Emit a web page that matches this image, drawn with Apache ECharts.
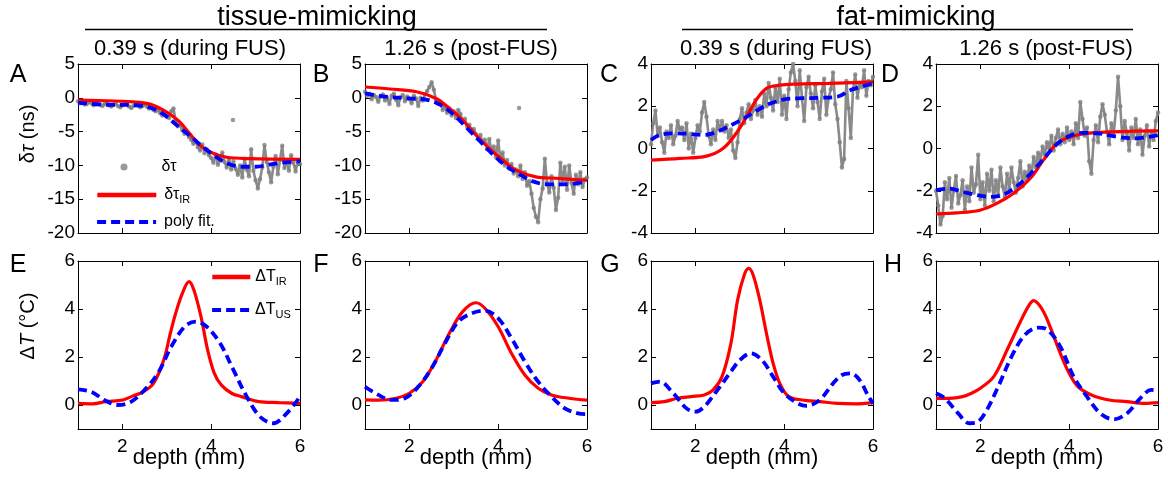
<!DOCTYPE html>
<html><head><meta charset="utf-8">
<script src="https://cdn.jsdelivr.net/npm/echarts@6/dist/echarts.min.js"></script>
<style>html,body{margin:0;padding:0;background:#fff}#c{width:1168px;height:478px}</style>
</head><body><div id="c"></div>
<script>
// ---------- data ----------
const DEPTH_GRID = Array.from({length: 101}, (_, i) => +(1 + i * 0.05).toFixed(2));

const GRAY_A = [-0.5,-0.8,-0.7,-1.0,-0.9,-0.6,-0.8,-1.1,-0.9,-0.7,-1.0,
 -1.2,-0.9,-0.8,-1.1,-1.3,-1.0,-0.9,-1.2,-1.4,-1.1,
 -0.9,-1.0,-1.3,-1.5,-1.2,-0.9,-1.1,-1.4,-1.2,-1.0,
 -1.3,-1.6,-1.4,-1.8,-2.0,-1.7,-2.3,-2.6,-2.2,-2.8,
 -3.0,-2.0,-1.6,-3.4,-4.2,-4.0,-4.8,-5.3,-5.0,-5.8,
 -6.2,-6.8,-6.4,-7.3,-7.8,-6.9,-8.2,-7.6,-8.5,-8.9,
 -9.6,-8.4,-9.9,-9.2,-8.1,-9.5,-10.3,-9.0,-10.6,-9.4,
 -10.5,-11.4,-10.0,-11.8,-9.0,-10.6,-11.6,-7.6,-10.8,-12.2,
 -13.4,-12.0,-10.3,-7.0,-9.5,-11.0,-12.5,-10.2,-8.6,-11.3,
 -9.2,-7.1,-10.4,-9.3,-10.8,-8.5,-9.6,-10.9,-9.4,-9.8];
const GRAY_B = [0.9,0.3,0.6,-0.2,0.4,0.1,-0.6,0.2,0.5,-0.4,0.0,
 -0.9,0.3,0.6,-0.3,-1.1,0.1,0.4,-0.5,0.2,-0.2,
 -0.8,0.3,-0.1,-1.2,0.0,-0.4,0.5,1.0,1.6,2.3,
 1.2,-0.3,-0.9,-0.6,-1.8,-1.2,-2.2,-1.6,-2.6,-2.0,
 -3.0,-1.8,-2.4,-3.6,-3.1,-4.3,-4.0,-4.8,-4.6,-5.4,
 -6.0,-5.5,-6.7,-6.2,-7.6,-6.1,-8.0,-7.2,-8.8,-6.3,
 -9.4,-8.1,-10.0,-9.2,-10.5,-9.8,-11.2,-10.6,-11.6,-10.0,
 -12.0,-11.0,-13.0,-12.3,-14.2,-16.3,-17.6,-18.4,-15.0,-13.4,
 -9.0,-12.6,-14.0,-11.6,-13.3,-16.6,-14.8,-9.6,-12.4,-10.2,
 -13.6,-10.0,-12.6,-14.2,-11.4,-12.8,-11.0,-13.2,-12.0,-11.8];
const GRAY_C = [0.2,1.2,1.8,0.6,1.0,0.3,-0.2,0.8,0.5,1.1,0.2,
 0.6,1.3,0.9,1.0,0.4,1.2,0.0,0.7,-0.2,0.5,
 1.1,0.8,1.7,2.2,1.5,0.6,0.2,0.9,0.4,1.3,
 0.9,1.3,0.8,1.1,0.5,0.9,-0.1,-0.45,0.3,1.4,
 1.9,1.2,1.7,2.1,1.4,1.8,2.3,1.6,2.0,1.5,
 2.6,2.0,3.1,2.4,1.8,2.9,2.2,3.3,1.6,2.5,
 1.4,2.8,3.6,4.0,3.2,2.0,3.7,2.4,1.3,2.9,
 3.4,2.6,1.9,3.0,2.2,1.4,2.7,3.3,1.6,2.4,
 2.8,3.6,2.1,1.4,0.3,-0.9,-0.5,3.2,1.9,0.5,
 2.8,3.5,2.4,3.1,2.9,3.7,2.5,3.2,3.0,3.4];
const GRAY_D = [-2.0,-2.7,-3.6,-3.2,-1.6,-2.4,-1.4,-2.8,-2.0,-1.3,-2.6,
 -2.2,-1.5,-2.9,-1.8,-2.5,-0.9,-2.1,-1.7,-0.3,-2.4,
 -1.6,-2.7,-1.2,-2.0,-1.0,-2.5,-1.5,-2.2,-0.9,-1.8,
 -2.3,-1.2,-1.9,-0.9,-1.6,-2.1,-1.4,-0.6,-1.8,-1.1,
 -1.5,-0.8,-1.2,-0.4,-0.9,-0.2,-0.6,0.1,-0.3,0.3,
 0.0,0.6,-0.1,0.5,0.9,0.2,0.7,0.3,1.0,0.4,
 0.8,0.2,1.2,0.5,2.2,1.4,0.6,1.0,-0.6,-1.2,
 0.4,1.1,0.3,1.5,2.1,1.6,0.8,0.2,1.2,0.6,
 1.8,3.4,2.0,0.4,1.3,0.7,-0.1,1.0,0.5,1.4,
 0.2,0.9,-0.3,0.6,1.1,0.1,0.8,0.4,1.3,1.7];
const OUTLIERS_A = [[4.49,-3.3]];
const OUTLIERS_B = [[4.47,-1.5]];

const A_IR  = [[1.0,-0.33],[1.47,-0.4],[2.23,-0.6],[2.6,-0.9],[2.98,-2.05],[3.28,-3.5],[3.51,-5.25],[3.74,-7.0],[4.04,-8.2],[4.35,-8.8],[4.87,-9.0],[6.0,-9.1]];
const A_FIT = [[1.0,-0.7],[1.5,-1.0],[2.3,-1.1],[2.6,-1.4],[2.9,-2.3],[3.2,-3.9],[3.5,-5.5],[3.8,-7.2],[4.1,-8.7],[4.4,-9.8],[4.7,-10.2],[5.0,-10.2],[5.3,-9.9],[5.6,-9.6],[6.0,-9.4]];
const B_IR  = [[1.0,1.6],[1.56,1.3],[2.16,0.9],[2.6,-0.1],[2.9,-1.55],[3.2,-3.3],[3.5,-5.5],[3.8,-7.5],[4.1,-9.2],[4.4,-10.7],[4.85,-11.7],[5.3,-11.9],[6.0,-12.2]];
const B_FIT = [[1.0,0.66],[1.4,0.2],[2.0,-0.1],[2.4,-0.3],[2.7,-1.05],[3.0,-2.5],[3.3,-4.5],[3.6,-6.5],[3.9,-8.5],[4.2,-10.2],[4.5,-11.4],[4.8,-12.4],[5.1,-12.8],[5.5,-12.8],[6.0,-12.4]];
const C_IR  = [[1.0,-0.55],[1.65,-0.47],[2.25,-0.36],[2.62,0.0],[2.92,0.72],[3.15,1.5],[3.37,2.3],[3.6,2.85],[3.9,3.0],[4.27,3.05],[5.0,3.08],[6.0,3.15]];
const C_FIT = [[1.0,0.4],[1.2,0.64],[1.5,0.72],[1.8,0.7],[2.2,0.64],[2.5,0.8],[2.8,1.1],[3.1,1.43],[3.4,1.82],[3.7,2.14],[4.0,2.33],[4.3,2.37],[4.8,2.4],[5.2,2.45],[5.5,2.77],[6.0,3.08]];
const D_IR  = [[1.0,-3.1],[1.47,-3.05],[1.99,-2.92],[2.37,-2.6],[2.74,-2.13],[3.12,-1.42],[3.42,-0.55],[3.72,0.24],[4.02,0.55],[4.39,0.72],[5.14,0.8],[6.0,0.83]];
const D_FIT = [[1.0,-1.97],[1.3,-1.9],[1.6,-2.05],[1.9,-2.2],[2.2,-2.29],[2.5,-2.2],[2.8,-1.82],[3.1,-1.26],[3.4,-0.55],[3.7,0.16],[4.0,0.59],[4.3,0.74],[4.7,0.7],[5.1,0.55],[5.5,0.48],[6.0,0.64]];

const E_IR = [[1.0,0.07],[1.33,0.05],[1.63,0.14],[2.01,0.21],[2.24,0.38],[2.47,0.55],[2.7,0.9],[2.93,1.87],[3.08,2.99],[3.2,3.82],[3.35,4.65],[3.5,5.14],[3.61,4.79],[3.77,3.68],[3.92,2.29],[4.07,1.32],[4.23,0.83],[4.46,0.49],[4.68,0.35],[5.07,0.14],[5.52,0.1],[6.0,0.07]];
const E_US = [[1.0,0.65],[1.3,0.55],[1.6,0.2],[1.9,0.0],[2.2,0.14],[2.5,0.63],[2.8,1.32],[3.1,2.43],[3.4,3.26],[3.65,3.47],[3.9,3.26],[4.2,2.57],[4.5,1.46],[4.8,0.35],[5.1,-0.49],[5.4,-0.76],[5.7,-0.35],[6.0,0.35]];
const F_IR = [[1.0,0.21],[1.3,0.2],[1.7,0.28],[2.0,0.49],[2.3,0.97],[2.6,1.87],[2.9,2.99],[3.2,3.89],[3.5,4.26],[3.7,4.03],[4.0,3.26],[4.3,2.15],[4.6,1.25],[4.9,0.7],[5.2,0.42],[5.6,0.28],[6.0,0.2]];
const F_US = [[1.0,0.76],[1.3,0.42],[1.6,0.21],[1.9,0.28],[2.2,0.76],[2.5,1.53],[2.8,2.57],[3.1,3.47],[3.4,3.82],[3.7,3.93],[4.0,3.61],[4.3,2.78],[4.6,1.81],[4.9,0.97],[5.2,0.35],[5.5,-0.14],[5.8,-0.35],[6.0,-0.38]];
const G_IR = [[1.0,0.1],[1.3,0.14],[1.6,0.28],[1.9,0.35],[2.2,0.42],[2.4,0.63],[2.6,1.18],[2.8,2.57],[2.95,4.37],[3.1,5.42],[3.2,5.69],[3.3,5.42],[3.45,4.37],[3.6,2.99],[3.75,1.74],[3.9,0.9],[4.1,0.35],[4.4,0.21],[4.8,0.14],[5.2,0.07],[5.6,0.05],[6.0,0.1]];
const G_US = [[1.0,0.9],[1.2,0.97],[1.5,0.49],[1.8,-0.14],[2.0,-0.28],[2.2,-0.07],[2.5,0.63],[2.8,1.39],[3.0,1.87],[3.25,2.15],[3.5,1.87],[3.75,1.18],[4.0,0.49],[4.3,0.07],[4.5,-0.04],[4.8,0.21],[5.1,0.9],[5.3,1.25],[5.5,1.32],[5.7,1.04],[5.9,0.35],[6.0,0.07]];
const H_IR = [[1.0,0.28],[1.3,0.28],[1.6,0.35],[1.8,0.49],[2.0,0.7],[2.3,1.18],[2.6,2.29],[2.9,3.47],[3.1,4.17],[3.2,4.35],[3.4,3.96],[3.6,3.12],[3.8,2.15],[4.0,1.32],[4.2,0.76],[4.5,0.42],[4.9,0.21],[5.3,0.14],[5.7,0.07],[6.0,0.1]];
const H_US = [[1.0,0.49],[1.2,0.28],[1.5,-0.35],[1.75,-0.76],[1.9,-0.74],[2.1,-0.35],[2.4,0.76],[2.7,2.01],[3.0,2.92],[3.3,3.22],[3.5,3.15],[3.8,2.43],[4.1,1.18],[4.4,0.35],[4.7,-0.35],[5.0,-0.6],[5.3,-0.35],[5.6,0.28],[5.85,0.63],[6.0,0.6]];

const TICKS_TISSUE = [-20,-15,-10,-5,0,5];
const TICKS_FAT = [-4,-2,0,2,4];
const TICKS_DT = [0,2,4,6];
const X_TICKS = [2,4];
const X_LABELS = [2,4,6];

// ---------- layout ----------
const FONT = 'Liberation Sans, Arial, Helvetica, sans-serif';
const COL_LEFT = [78, 365, 651, 936];
const COL_W = 222;
const ROW_TOP = [64, 261];
const ROW_H = [169, 168];

const panels = [
  {row:0,col:0,min:-20,max:5,ticks:TICKS_TISSUE,gray:GRAY_A,out:OUTLIERS_A,ir:A_IR,fit:A_FIT},
  {row:0,col:1,min:-20,max:5,ticks:TICKS_TISSUE,gray:GRAY_B,out:OUTLIERS_B,ir:B_IR,fit:B_FIT},
  {row:0,col:2,min:-4,max:4,ticks:TICKS_FAT,gray:GRAY_C,out:[],ir:C_IR,fit:C_FIT},
  {row:0,col:3,min:-4,max:4,ticks:TICKS_FAT,gray:GRAY_D,out:[],ir:D_IR,fit:D_FIT},
  {row:1,col:0,min:-1,max:6,ticks:TICKS_DT,ir:E_IR,fit:E_US},
  {row:1,col:1,min:-1,max:6,ticks:TICKS_DT,ir:F_IR,fit:F_US},
  {row:1,col:2,min:-1,max:6,ticks:TICKS_DT,ir:G_IR,fit:G_US},
  {row:1,col:3,min:-1,max:6,ticks:TICKS_DT,ir:H_IR,fit:H_US}
];

const grid = [], xAxis = [], yAxis = [], series = [];
const axLine = {show:true, onZero:false, lineStyle:{color:'#000', width:1}};
panels.forEach((p, i) => {
  grid.push({left: COL_LEFT[p.col], top: ROW_TOP[p.row], width: COL_W, height: ROW_H[p.row], outerBoundsMode:'none', containLabel:false});
  const bottom = p.row === 1;
  xAxis.push({type:'value', gridIndex:i, min:1, max:6, position:'bottom', axisLine:axLine,
    axisTick:{show:true, inside:true, length:5, customValues:X_TICKS, lineStyle:{color:'#000'}},
    axisLabel:{show:bottom, customValues:X_LABELS, color:'#000', fontSize:19, fontFamily:FONT, margin:8},
    splitLine:{show:false}});
  xAxis.push({type:'value', gridIndex:i, min:1, max:6, position:'top', axisLine:axLine,
    axisTick:{show:true, inside:true, length:5, customValues:X_TICKS, lineStyle:{color:'#000'}},
    axisLabel:{show:false}, splitLine:{show:false}});
  yAxis.push({type:'value', gridIndex:i, min:p.min, max:p.max, position:'left', axisLine:axLine,
    axisTick:{show:true, inside:true, length:5, customValues:p.ticks, lineStyle:{color:'#000'}},
    axisLabel:{show:true, customValues:p.ticks, color:'#000', fontSize:19, fontFamily:FONT, margin:3},
    splitLine:{show:false}});
  yAxis.push({type:'value', gridIndex:i, min:p.min, max:p.max, position:'right', axisLine:axLine,
    axisTick:{show:true, inside:true, length:5, customValues:p.ticks, lineStyle:{color:'#000'}},
    axisLabel:{show:false}, splitLine:{show:false}});
  const top = p.row === 0;
  if (top) {
    const pts = DEPTH_GRID.map((x, k) => [x, p.gray[k]]);
    series.push({type:'line', name:'δτ trace', xAxisIndex:2*i, yAxisIndex:2*i,
      data: pts, symbol:'none', lineStyle:{color:'#8a8a8a', width:2.6}, silent:true, z:1});
    series.push({type:'scatter', name:'δτ', xAxisIndex:2*i, yAxisIndex:2*i,
      data: pts.concat(p.out), symbolSize:4.5, itemStyle:{color:'#808080'}, silent:true, z:1});
  }
  series.push({type:'line', name: top ? 'δτ_IR' : 'ΔT_IR', xAxisIndex:2*i, yAxisIndex:2*i,
    data:p.ir, smooth:0.35, symbol:'none', lineStyle:{color:'#ff0000', width:3.2}, itemStyle:{color:'#ff0000'}, z:3});
  series.push({type:'line', name: top ? 'poly fit.' : 'ΔT_US', xAxisIndex:2*i, yAxisIndex:2*i,
    data:p.fit, smooth:0.35, symbol:'none', lineStyle:{color:'#0000ff', width:3.8, type:[9,5]}, itemStyle:{color:'#0000ff'}, z:4});
});

// ---------- legends ----------
const legRich = {
  n:{fontSize:16, fontFamily:FONT, color:'#000', lineHeight:20},
  s:{fontSize:11, fontFamily:FONT, color:'#000', lineHeight:12, verticalAlign:'bottom'}
};
const legFmt = name => {
  if (name === 'δτ_IR') return '{n|δτ}{s|IR}';
  if (name === 'ΔT_IR') return '{n|ΔT}{s|IR}';
  if (name === 'ΔT_US') return '{n|ΔT}{s|US}';
  return '{n|' + name + '}';
};
function leg(name, left, cy, w, h, padL, extra) {
  return Object.assign({data:[name], left:left, top:cy - 10, orient:'vertical', padding:0,
    itemWidth:w, itemHeight:h, selectedMode:false, formatter:legFmt,
    textStyle:{rich:legRich, padding:[0,0,0,padL]}}, extra || {});
}
const lineLeg = w => ({itemStyle:{opacity:0}, lineStyle:{width:w}});
const legend = [
  leg('δτ', 120.5, 169, 7, 7, 29),
  leg('δτ_IR', 95, 197, 59, 14, 3, lineLeg(4.6)),
  leg('poly fit.', 95, 224, 59, 14, 3, lineLeg(4.2)),
  leg('ΔT_IR', 210, 279, 38, 14, 0, lineLeg(4.6)),
  leg('ΔT_US', 210, 312, 38, 14, 0, lineLeg(4.2))
];

// ---------- texts ----------
function txt(text, x, y, size, extra) {
  return Object.assign({type:'text', x:x, y:y, silent:true,
    style:{text:text, fontSize:size, fontFamily:FONT, fill:'#000', align:'center', verticalAlign:'middle'}}, extra || {});
}
const graphic = [
  txt('tissue-mimicking', 317, 18, 27),
  {type:'line', silent:true, shape:{x1:85, y1:29.5, x2:547, y2:29.5}, style:{stroke:'#000', lineWidth:1.5}},
  txt('fat-mimicking', 916, 18, 27),
  {type:'line', silent:true, shape:{x1:682, y1:29.5, x2:1133, y2:29.5}, style:{stroke:'#000', lineWidth:1.5}},
  txt('0.39 s (during FUS)', 190, 49, 22),
  txt('1.26 s (post-FUS)', 471, 49, 22),
  txt('0.39 s (during FUS)', 776, 49, 22),
  txt('1.26 s (post-FUS)', 1046, 49, 22),
  txt('A', 18, 75, 25), txt('B', 321, 75, 25), txt('C', 609, 75, 25), txt('D', 890, 75, 25),
  txt('E', 18, 265, 25), txt('F', 321, 265, 25), txt('G', 610, 265, 25), txt('H', 893, 265, 25),
  txt('depth (mm)', COL_LEFT[0] + COL_W / 2, 458, 22),
  txt('depth (mm)', COL_LEFT[1] + COL_W / 2, 458, 22),
  txt('depth (mm)', COL_LEFT[2] + COL_W / 2, 458, 22),
  txt('depth (mm)', COL_LEFT[3] + COL_W / 2, 458, 22),
  {type:'text', x:28, y:134, rotation:Math.PI/2, silent:true,
    style:{text:'{n|δ}{i|τ}{n| (ns)}', align:'center', verticalAlign:'middle',
      rich:{n:{fontSize:20, fontFamily:FONT, fill:'#000'}, i:{fontSize:20, fontFamily:FONT, fontStyle:'italic', fill:'#000'}}}},
  {type:'text', x:28, y:326, rotation:Math.PI/2, silent:true,
    style:{text:'{n|Δ}{i|T}{n| (°C)}', align:'center', verticalAlign:'middle',
      rich:{n:{fontSize:20, fontFamily:FONT, fill:'#000'}, i:{fontSize:20, fontFamily:FONT, fontStyle:'italic', fill:'#000'}}}}
];

const chart = echarts.init(document.getElementById('c'), null, {renderer:'canvas'});
chart.setOption({
  animation:false, backgroundColor:'#fff',
  textStyle:{fontFamily:FONT},
  grid, xAxis, yAxis, series, legend, graphic
});
</script></body></html>
